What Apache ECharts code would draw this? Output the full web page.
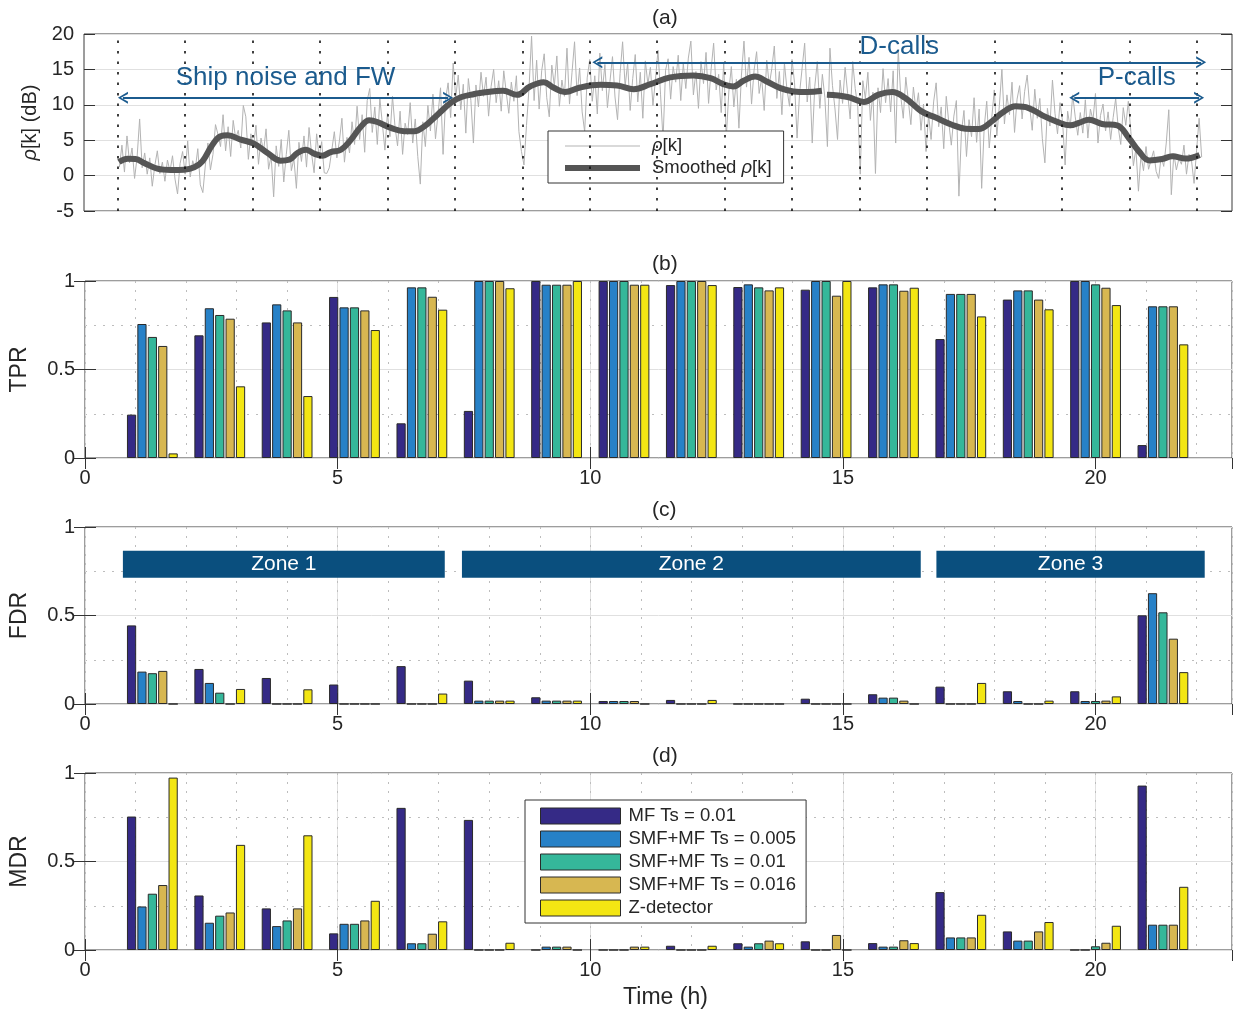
<!DOCTYPE html>
<html>
<head>
<meta charset="utf-8">
<script src="https://cdn.jsdelivr.net/npm/echarts@6/dist/echarts.min.js"></script>
<style>
  html, body { margin: 0; padding: 0; background: #ffffff; }
  #chart { width: 1245px; height: 1014px; }
</style>
</head>
<body>
<div id="chart"></div>
<script>
// ---------- data ----------
// rho[k] (dB), one sample every 0.05 h starting at 0.70 h
const rhoStart = 0.70;
const rhoStep = 0.05;
const rhoValues = [
  1.2, 4.3, 0.5, 5.6, 1.8, 3.9, -0.4, 2.6, 8.0, 1.1, 3.2, 0.2, 2.5, -1.5, 1.4, 3.5, 0.3, 1.9, -0.8, 2.2,
  0.6, 2.8, -0.5, -2.6, 1.7, 3.4, 0.2, 4.9, -0.2, 2.1, 0.9, 3.8, -1.3, -2.4, 1.5, 4.6, 0.8, 3.0, 7.2, 5.8,
  4.1, 8.6, 3.5, 6.9, 2.7, 7.8, 5.2, 6.4, 3.9, 9.9, 8.3, 2.3, 5.9, 4.0, 7.1, 1.6, 5.3, 3.4, 6.6, 0.9,
  2.8, -3.0, 4.2, 1.3, 5.1, -0.9, 3.0, 6.4, 0.7, 2.4, -1.8, 4.7, 2.0, 5.6, 1.2, 6.8, 3.1, 0.4, 5.9, 2.6,
  4.8, 0.4, 0.3, 1.1, 3.6, 6.2, 2.5, 4.9, 8.1, 1.9, 5.4, 3.2, 7.6, 4.4, 9.8, 5.1, 8.6, 3.3, 10.6, 12.3,
  6.1, 9.7, 4.4, 10.9, 7.3, 3.6, 8.8, 5.5, 11.2, 6.9, 4.2, 9.1, 3.0, 7.4, 5.8, 10.3, 4.6, 8.0, 2.7, -1.2,
  7.6, 4.1, 9.9, 6.3, 11.5, 5.2, 8.7, 12.4, 3.0, 10.8, 13.1, 8.2, 15.9, 11.0, 14.2, 9.3, 12.9, 6.0, 13.7, 10.6,
  4.6, 12.8, 9.7, 14.6, 11.2, 13.9, 8.4, 12.6, 15.0, 10.3, 13.4, 9.1, 14.8, 11.7, 8.8, 13.2, 10.5, 14.1, 6.2, 3.4,
  1.5, 7.1, 12.4, 19.7, 10.6, 16.3, 9.4, 14.8, 17.2, 11.0, 8.3, 15.6, 12.7, 16.9, 9.8, 13.5, 11.2, 18.0, 10.1, 14.6,
  18.9, 11.3, 15.2, 9.0, 6.2, 13.8, 16.4, 10.5, 14.1, 8.7, 17.3, 12.0, 15.7, 9.6, 13.3, 16.8, 11.1, 7.9, 14.4, 18.9,
  12.6, 15.9, 9.2, 13.7, 17.1, 10.4, 14.6, 8.1, 16.2, 12.9, 15.3, 9.9, 13.6, 17.7, 11.5, 5.1, 14.9, 16.5, 10.8, 15.4,
  13.2, 17.0, 10.6, 15.8, 12.3, 16.6, 19.0, 11.4, 14.7, 9.5, 16.1, 13.0, 17.4, 10.2, 15.0, 18.7, 12.1, 14.3, 8.9, 16.0,
  5.3, 11.8, 15.4, 9.7, 13.6, 6.7, 14.2, 19.0, 12.5, 16.7, 10.1, 14.9, 17.5, 11.6, 13.8, 9.2, 16.3, 12.8, 15.1, 18.3,
  10.9, 14.7, 8.6, 15.9, 12.2, 9.8, 16.4, 13.1, 5.3, 11.7, 15.2, 18.7, 10.4, 13.9, 4.6, 12.6, 16.1, 9.5, 14.3, 11.0,
  4.1, 18.0, 12.7, 9.4, 5.1, 13.5, 10.2, 15.3, 11.6, 8.0, 16.1, 12.3, 9.7, 0.2, 13.4, 10.9, 14.6, 7.8, 11.8, 0.3,
  12.4, 8.9, 15.1, 10.3, 13.7, 9.0, 14.8, 4.6, 17.8, 11.2, 8.1, 13.9, 10.6, 7.2, 12.5, 9.3, 11.7, 6.4, 10.1, 3.4,
  8.6, 5.1, 10.4, 13.1, 6.9, 9.7, 3.8, 11.2, 7.5, 4.3, 8.4, 10.6, -2.9, 6.1, 9.2, 2.7, 7.9, 5.5, 11.0, 4.7,
  9.4, -1.8, 6.8, 10.5, 3.9, 8.2, 12.1, 5.6, 9.9, 15.0, 7.3, 11.4, 8.6, 13.2, 6.1, 10.8, 12.7, 8.0, 11.9, 14.2,
  9.7, 6.4, 12.2, 8.1, 10.9, 5.2, 1.8, 9.5, 7.0, 13.5, 8.8, 5.9, 10.3, 7.6, 1.5, 9.1, 6.7, 11.4, 8.3, 5.7,
  8.9, 6.0, 10.7, 5.3, 9.4, 7.8, 11.6, 4.6, 8.5, 10.1, 6.3, 9.0, 5.1, 8.2, 10.9, 6.8, 4.4, 9.6, 7.1, 10.5,
  6.2, 1.4, 3.8, -2.2, 2.9, 0.7, 4.1, 0.9, 2.2, 3.5, 0.6, -0.4, 2.7, 1.3, 4.6, 9.3, -2.7, 3.1, 0.8, 2.4,
  1.6, 4.3, 0.2, 3.0, 2.1, -1.1, 3.6, 8.1, 2.6
];

// smoothed rho[k] (null = no data)
const smoothHours = [
  0.69, 0.86, 1.02, 1.19, 1.45, 1.71, 1.98, 2.18, 2.34, 2.54,
  2.70, 2.84, 3.10, 3.36, 3.63, 3.89, 4.06, 4.22, 4.39, 4.55,
  4.71, 4.88, 5.08, 5.28, 5.47, 5.64, 5.80, 6.07, 6.33, 6.53,
  6.73, 6.99, 7.25, 7.45, 7.72, 7.83, 8.29, 8.56, 8.82, 9.09,
  9.28, 9.51, 9.81, 10.21, 10.54, 10.87, 11.20, 11.59, 12.05, 12.39,
  12.64, 12.84, 13.04, 13.27, 13.50, 13.77, 14.03, 14.30, 14.59, 14.64,
  14.69, 15.10, 15.42, 15.71, 15.98, 16.24, 16.56, 16.83, 17.16, 17.43,
  17.69, 17.95, 18.15, 18.42, 18.68, 18.95, 19.27, 19.50, 19.67, 19.87,
  20.13, 20.43, 20.66, 20.86, 21.06, 21.32, 21.52, 21.78, 22.06
];
const smoothValues = [
  1.92, 2.39, 2.35, 1.78, 0.98, 0.79, 0.84, 1.17, 2.01, 4.37,
  5.55, 5.69, 5.08, 4.51, 3.19, 2.11, 2.25, 3.19, 3.66, 3.10,
  2.81, 3.33, 3.66, 5.08, 6.87, 7.81, 7.57, 6.73, 6.26, 6.26,
  6.96, 8.61, 10.26, 11.06, 11.53, 11.66, 11.98, 11.41, 12.59, 13.2,
  12.45, 11.8, 12.45, 12.82, 12.73, 12.21, 12.92, 13.87, 14.15, 13.77,
  12.92, 12.59, 13.39, 14.0, 13.3, 12.36, 11.89, 11.8, 11.98, null,
  11.41, 11.1, 10.4, 11.43, 11.8, 10.96, 9.07, 8.23, 7.19, 6.63,
  6.58, 7.66, 8.84, 9.78, 9.54, 8.51, 7.52, 7.1, 7.43, 7.9,
  7.29, 7.1, 5.31, 3.42, 2.15, 2.35, 2.73, 2.4, 2.92
];

// boundaries of the 80-minute analysis windows (h)
const intervalEdges = [0.667, 2, 3.333, 4.667, 6, 7.333, 8.667, 10, 11.333,
  12.667, 14, 15.333, 16.667, 18, 19.333, 20.667, 22];

// window centres (h)
const groupHours = [1.333, 2.667, 4, 5.333, 6.667, 8, 9.333, 10.667,
  12, 13.333, 14.667, 16, 17.333, 18.667, 20, 21.333];

const methods = ['MF Ts = 0.01', 'SMF+MF Ts = 0.005', 'SMF+MF Ts = 0.01',
  'SMF+MF Ts = 0.016', 'Z-detector'];

// true positive rate per window
const tprMF   = [0.245, 0.693, 0.766, 0.910, 0.196, 0.266, 1.0, 1.0, 0.977, 0.966, 0.951, 0.964, 0.672, 0.895, 1.0, 0.073];
const tprS005 = [0.757, 0.846, 0.868, 0.851, 0.964, 1.0, 0.979, 1.0, 1.0, 0.981, 1.0, 0.981, 0.927, 0.947, 1.0, 0.857];
const tprS01  = [0.684, 0.808, 0.834, 0.851, 0.964, 1.0, 0.979, 1.0, 1.0, 0.964, 1.0, 0.981, 0.927, 0.947, 0.981, 0.857];
const tprS016 = [0.633, 0.787, 0.766, 0.834, 0.911, 1.0, 0.979, 0.979, 1.0, 0.947, 0.917, 0.945, 0.927, 0.895, 0.962, 0.857];
const tprZ    = [0.026, 0.405, 0.350, 0.723, 0.838, 0.959, 1.0, 0.979, 0.977, 0.964, 1.0, 0.962, 0.800, 0.840, 0.864, 0.642];

// false discovery rate per window
const fdrMF   = [0.444, 0.198, 0.147, 0.110, 0.214, 0.132, 0.038, 0.017, 0.023, 0, 0.030, 0.055, 0.098, 0.072, 0.072, 0.501];
const fdrS005 = [0.183, 0.119, 0, 0, 0, 0.019, 0.019, 0.017, 0, 0, 0, 0.036, 0, 0.017, 0.017, 0.626];
const fdrS01  = [0.174, 0.064, 0, 0, 0, 0.019, 0.019, 0.017, 0, 0, 0, 0.036, 0, 0, 0.017, 0.518];
const fdrS016 = [0.187, 0, 0, 0, 0, 0.019, 0.019, 0.017, 0, 0, 0, 0.019, 0, 0, 0.019, 0.369];
const fdrZ    = [0, 0.085, 0.083, 0, 0.059, 0.019, 0.019, 0, 0.023, 0, 0, 0, 0.119, 0.019, 0.043, 0.180];

// missed detection rate per window
const mdrMF   = [0.754, 0.308, 0.235, 0.094, 0.803, 0.735, 0, 0, 0.024, 0.038, 0.049, 0.039, 0.327, 0.105, 0, 0.929];
const mdrS005 = [0.246, 0.154, 0.135, 0.148, 0.038, 0, 0.019, 0, 0, 0.019, 0, 0.019, 0.071, 0.053, 0, 0.143];
const mdrS01  = [0.318, 0.194, 0.167, 0.148, 0.038, 0, 0.019, 0, 0, 0.038, 0, 0.019, 0.071, 0.053, 0.021, 0.143];
const mdrS016 = [0.367, 0.212, 0.235, 0.167, 0.092, 0, 0.019, 0.019, 0, 0.053, 0.085, 0.055, 0.071, 0.105, 0.041, 0.143];
const mdrZ    = [0.974, 0.594, 0.648, 0.278, 0.162, 0.041, 0, 0.019, 0.024, 0.038, 0, 0.039, 0.199, 0.158, 0.137, 0.357];

const tickValues = { dB: [-5, 20, 5], rate: [0, 1, 0.5] };

// ---------- styling ----------
const FONT = 'Liberation Sans, Arial, Helvetica, sans-serif';
const TXT = '#262626';
const palette = ['#352a86', '#2781c7', '#35b79a', '#d7b751', '#f3e613'];
const ANNOT = '#1b5b8e';
const XMAX = 22.7;
const PLOT = { left: 84, width: 1148, height: 177 };
const tops = [34, 281, 527, 773];

const chevron = 'path://M5,0 L10,10 L8.2,10 L5,3 L1.8,10 L0,10 Z';
const thinIcon = 'path://M0,0 L0.05,0 L0,0.05 Z M0,5.5 L75,5.5 L75,6.5 L0,6.5 Z M75,12 L74.95,12 L75,11.95 Z';
const thickIcon = 'path://M0,0 L0.05,0 L0,0.05 Z M0,3.0 L75,3.0 L75,9.0 L0,9.0 Z M75,12 L74.95,12 L75,11.95 Z';

const grid = tops.map(t => ({
  left: PLOT.left, width: PLOT.width, top: t, height: PLOT.height,
  show: true, borderColor: '#3a3a3a', borderWidth: 1, backgroundColor: 'transparent'
}));

const inTick = { show: true, inside: true, length: 11, lineStyle: { color: '#333', width: 1 } };
const noLine = { show: false };
const labelStyle = { fontSize: 20, color: TXT, fontFamily: FONT };

// x axes: labelled bottom axis, mirror-tick top axis, 1 h dotted grid
const xAxis = [];
const bottomX = [];
tops.forEach((t, g) => {
  if (g === 0) {
    bottomX.push(xAxis.length);
    xAxis.push({ gridIndex: 0, type: 'value', min: 0, max: XMAX,
      axisLine: noLine, axisTick: { show: false }, axisLabel: { show: false }, splitLine: { show: false } });
    return;
  }
  bottomX.push(xAxis.length);
  const bottom = { gridIndex: g, type: 'value', min: 0, max: XMAX, interval: 5, position: 'bottom',
    axisLine: noLine, axisTick: inTick,
    axisLabel: Object.assign({ margin: 10, showMaxLabel: false }, labelStyle),
    splitLine: { show: true, lineStyle: { color: '#e0e0e0', width: 1 } } };
  if (g === 3) {
    Object.assign(bottom, { name: 'Time (h)', nameLocation: 'middle', nameGap: 36,
      nameTextStyle: { fontSize: 23, color: TXT, fontFamily: FONT, padding: [0, 0, 0, 14] } });
  }
  xAxis.push(bottom);
  xAxis.push({ gridIndex: g, type: 'value', min: 0, max: XMAX, interval: 5, position: 'top',
    axisLine: noLine, axisTick: inTick, axisLabel: { show: false }, splitLine: { show: false } });
  xAxis.push({ gridIndex: g, type: 'value', min: 0, max: XMAX, interval: 1, position: 'bottom',
    axisLine: noLine, axisTick: { show: false }, axisLabel: { show: false },
    splitLine: { show: true, lineStyle: { color: '#bdbdbd', type: [2, 7], width: 1 } } });
});

// y axes: left (labelled) + right (mirror ticks) per grid
const yNames = [null, 'TPR', 'FDR', 'MDR'];
const yAxis = [];
tops.forEach((t, g) => {
  const r = g === 0 ? tickValues.dB : tickValues.rate;
  const left = { gridIndex: g, type: 'value', min: r[0], max: r[1], interval: r[2], position: 'left',
    axisLine: noLine, axisTick: inTick,
    axisLabel: Object.assign({ margin: 10 }, labelStyle),
    splitLine: { show: true, lineStyle: { color: '#e0e0e0', width: 1 } },
    nameLocation: 'middle' };
  if (g === 0) {
    Object.assign(left, { name: '{i|ρ}[k] (dB)', nameGap: 44,
      nameTextStyle: { fontSize: 20, color: TXT, fontFamily: FONT,
        rich: { i: { fontStyle: 'italic', fontSize: 20, color: TXT, fontFamily: FONT } } } });
  } else {
    Object.assign(left, { name: yNames[g], nameGap: 54,
      nameTextStyle: { fontSize: 23, color: TXT, fontFamily: FONT },
      minorTick: { show: false, splitNumber: 2 },
      minorSplitLine: { show: true, lineStyle: { color: '#bdbdbd', type: [2, 7], width: 1 } } });
  }
  yAxis.push(left);
  yAxis.push({ gridIndex: g, type: 'value', min: r[0], max: r[1], interval: r[2], position: 'right',
    axisLine: noLine, axisTick: inTick, axisLabel: { show: false }, splitLine: { show: false } });
});

// ---------- series ----------
const series = [];

series.push({
  name: 'ρ[k]', type: 'line', xAxisIndex: bottomX[0], yAxisIndex: 0,
  data: rhoValues.map((v, i) => [rhoStart + i * rhoStep, v]),
  showSymbol: false, color: '#b3b3b3',
  lineStyle: { color: '#b3b3b3', width: 1 }, z: 2,
  markLine: {
    silent: true, symbol: ['none', 'none'], label: { show: false },
    lineStyle: { color: '#111', type: [2.5, 8], width: 1.6 },
    data: intervalEdges.map(x => ({ xAxis: x }))
  }
});

series.push({
  name: 'Smoothed ρ[k]', type: 'line', xAxisIndex: bottomX[0], yAxisIndex: 0,
  data: smoothHours.map((h, i) => [h, smoothValues[i] === null ? '-' : smoothValues[i]]),
  showSymbol: false, smooth: 0.4, connectNulls: false, color: '#555555',
  lineStyle: { color: '#555555', width: 6 }, z: 3,
  markLine: {
    silent: true, symbol: [chevron, chevron], symbolSize: [12, 10],
    lineStyle: { color: ANNOT, width: 1.8, type: 'solid' },
    label: { show: true, position: 'middle', formatter: '{b}', fontSize: 26,
      color: ANNOT, fontFamily: FONT, distance: 7 },
    data: [
      [{ name: 'Ship noise and FW', coord: [0.77, 11] }, { coord: [7.2, 11] }],
      [{ name: 'D-calls', coord: [10.15, 16], label: { distance: 2 } }, { coord: [22.09, 16] }],
      [{ name: 'P-calls', coord: [19.58, 11] }, { coord: [22.05, 11] }]
    ]
  }
});

const panels = [
  [tprMF, tprS005, tprS01, tprS016, tprZ],
  [fdrMF, fdrS005, fdrS01, fdrS016, fdrZ],
  [mdrMF, mdrS005, mdrS01, mdrS016, mdrZ]
];

panels.forEach((sets, p) => {
  const g = p + 1;
  sets.forEach((vals, m) => {
    const s = {
      name: methods[m], type: 'bar', xAxisIndex: bottomX[g], yAxisIndex: 2 * g,
      data: groupHours.map((h, i) => [h, vals[i]]),
      barWidth: 9.2, barGap: '13%',
      itemStyle: { color: palette[m], borderColor: '#2a2a2a', borderWidth: 1 },
      z: 2
    };
    if (g === 2 && m === 0) {
      s.markArea = {
        silent: true,
        itemStyle: { color: '#0a4f7e', opacity: 1 },
        label: { show: true, position: 'inside', color: '#ffffff', fontSize: 21, fontFamily: FONT },
        data: [
          [{ name: 'Zone 1', coord: [0.75, 0.866] }, { coord: [7.12, 0.713] }],
          [{ name: 'Zone 2', coord: [7.46, 0.866] }, { coord: [16.54, 0.713] }],
          [{ name: 'Zone 3', coord: [16.85, 0.866] }, { coord: [22.16, 0.713] }]
        ]
      };
    }
    series.push(s);
  });
});

// ---------- option ----------
const titleStyle = { fontSize: 21, fontWeight: 'normal', color: TXT, fontFamily: FONT };
const option = {
  animation: false,
  backgroundColor: '#ffffff',
  title: [
    { text: '(a)', left: 652, top: 8, padding: 0, textStyle: titleStyle },
    { text: '(b)', left: 652, top: 254, padding: 0, textStyle: titleStyle },
    { text: '(c)', left: 652, top: 500, padding: 0, textStyle: titleStyle },
    { text: '(d)', left: 652, top: 746, padding: 0, textStyle: titleStyle }
  ],
  legend: [
    {
      left: 548, top: 131, orient: 'vertical',
      padding: [5, 12, 5, 17], itemGap: 2, itemWidth: 75, itemHeight: 12,
      backgroundColor: '#ffffff', borderColor: '#333', borderWidth: 1,
      itemStyle: { borderWidth: 0 },
      data: [{ name: 'ρ[k]', icon: thinIcon }, { name: 'Smoothed ρ[k]', icon: thickIcon }],
      formatter: n => n.replace('ρ', '{i|ρ}'),
      textStyle: { fontSize: 18.5, color: TXT, fontFamily: FONT, lineHeight: 20, padding: [0, 0, 0, 7],
        rich: { i: { fontStyle: 'italic', fontSize: 18.5, color: TXT, fontFamily: FONT, lineHeight: 20 } } }
    },
    {
      left: 525, top: 800, orient: 'vertical',
      padding: [6, 10, 5, 15], itemGap: 3, itemWidth: 80, itemHeight: 16,
      backgroundColor: '#ffffff', borderColor: '#333', borderWidth: 1,
      icon: 'rect',
      itemStyle: { borderColor: '#2a2a2a', borderWidth: 1 },
      data: methods,
      textStyle: { fontSize: 18.5, color: TXT, fontFamily: FONT, lineHeight: 20, padding: [0, 0, 0, 3] }
    }
  ],
  grid: grid,
  xAxis: xAxis,
  yAxis: yAxis,
  series: series
};

const chart = echarts.init(document.getElementById('chart'), null, { renderer: 'canvas' });
chart.setOption(option);
</script>
</body>
</html>
